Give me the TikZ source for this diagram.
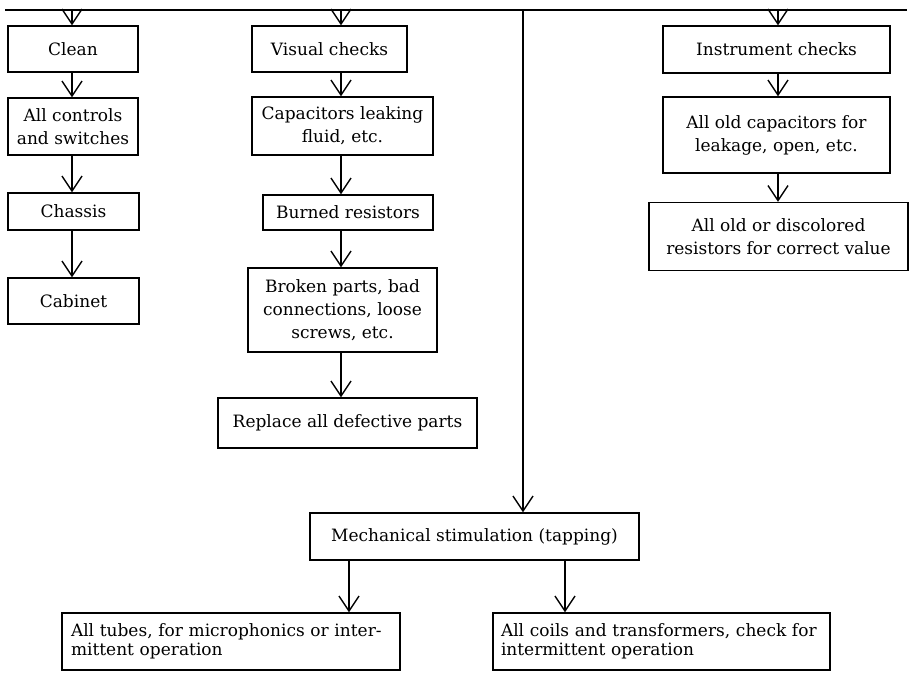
\documentclass[tikz,border=0pt]{standalone}
\usepackage{fontspec}
\setmainfont{DejaVu Serif}
\usetikzlibrary{arrows.meta}
\begin{document}
\begin{tikzpicture}[x=1pt,y=-1pt,
  box/.style={draw, line width=1.4pt, inner sep=0pt, font=\fontsize{17}{23}\selectfont, align=center},
  lbox/.style={draw, line width=1.4pt, inner ysep=0pt, inner xsep=0pt, font=\fontsize{17}{19}\selectfont, align=left},
  arr/.style={line width=1.4pt, -{Straight Barb[length=15pt,width=20pt,line width=1.4pt]}},
  ln/.style={line width=1.4pt}]
\useasboundingbox (0,0) rectangle (910,672);
% top bus
\coordinate (L) at (5,10);
\coordinate (R) at (907,10);
\draw[ln] (L) -- (R);
% column x positions
\coordinate (c1) at (72,10);
\coordinate (c2) at (341,10);
\coordinate (c3) at (778,10);
\coordinate (c4) at (523,10);
% column 1
\node[box, minimum width=130pt, minimum height=46pt] (clean) at (73,49) {Clean};
\node[box, minimum width=130pt, minimum height=57pt] (controls) at (73,126.5) {All controls\\and switches};
\node[box, minimum width=131pt, minimum height=37pt] (chassis) at (73.5,211.5) {Chassis};
\node[box, minimum width=131pt, minimum height=46pt] (cabinet) at (73.5,301) {Cabinet};
\draw[arr] (c1) -- (clean.north -| c1);
\draw[arr] (clean.south -| c1) -- (controls.north -| c1);
\draw[arr] (controls.south -| c1) -- (chassis.north -| c1);
\draw[arr] (chassis.south -| c1) -- (cabinet.north -| c1);
% column 2
\node[box, minimum width=155pt, minimum height=46pt] (visual) at (329.5,49) {Visual checks};
\node[box, minimum width=181pt, minimum height=58pt] (capleak) at (342.5,126) {Capacitors leaking\\fluid, etc.};
\node[box, minimum width=170pt, minimum height=35pt] (burned) at (348,212.5) {Burned resistors};
\node[box, minimum width=189pt, minimum height=84pt] (broken) at (342.5,310) {Broken parts, bad\\connections, loose\\screws, etc.};
\node[box, minimum width=259pt, minimum height=50pt] (replace) at (347.5,423) {Replace all defective parts};
\draw[arr] (c2) -- (visual.north -| c2);
\draw[arr] (visual.south -| c2) -- (capleak.north -| c2);
\draw[arr] (capleak.south -| c2) -- (burned.north -| c2);
\draw[arr] (burned.south -| c2) -- (broken.north -| c2);
\draw[arr] (broken.south -| c2) -- (replace.north -| c2);
% column 3
\node[box, minimum width=227pt, minimum height=47pt] (instr) at (776.5,49.5) {Instrument checks};
\node[box, minimum width=227pt, minimum height=76pt] (oldcap) at (776.5,135) {All old capacitors for\\leakage, open, etc.};
\node[box, minimum width=259pt, minimum height=68pt] (oldres) at (778.5,236.5) {All old or discolored\\resistors for correct value};
\draw[arr] (c3) -- (instr.north -| c3);
\draw[arr] (instr.south -| c3) -- (oldcap.north -| c3);
\draw[arr] (oldcap.south -| c3) -- (oldres.north -| c3);
% mechanical
\node[box, minimum width=329pt, minimum height=47pt] (mech) at (474.5,536.5) {Mechanical stimulation (tapping)};
\draw[arr] (c4) -- (mech.north -| c4);
\coordinate (m1) at (349,560);
\coordinate (m2) at (565,560);
\node[lbox, minimum width=338pt, minimum height=57pt, text width=320pt] (tubes) at (231,641.5) {All tubes, for microphonics or inter-\\mittent operation};
\node[lbox, minimum width=337pt, minimum height=57pt, text width=321pt] (coils) at (661.5,641.5) {All coils and transformers, check for\\intermittent operation};
\draw[arr] (mech.south -| m1) -- (tubes.north -| m1);
\draw[arr] (mech.south -| m2) -- (coils.north -| m2);
\end{tikzpicture}
\end{document}
